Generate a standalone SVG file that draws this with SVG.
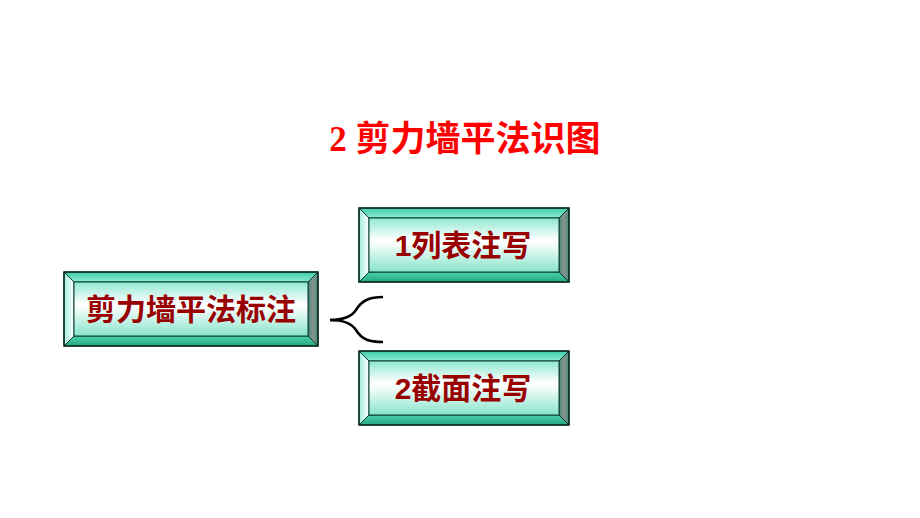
<svg xmlns="http://www.w3.org/2000/svg" width="920" height="518" viewBox="0 0 920 518">
<defs>
<linearGradient id="face" x1="0" y1="0" x2="0" y2="1">
<stop offset="0" stop-color="#8ee8d0"/>
<stop offset="0.4" stop-color="#ffffff"/>
<stop offset="0.5" stop-color="#f4fdfa"/>
<stop offset="1" stop-color="#86e4ca"/>
</linearGradient>
<linearGradient id="topb" x1="0" y1="0" x2="0" y2="1">
<stop offset="0" stop-color="#3ccca8"/>
<stop offset="1" stop-color="#8eead4"/>
</linearGradient>
<linearGradient id="leftb" x1="0" y1="0" x2="1" y2="0">
<stop offset="0" stop-color="#9eeedc"/>
<stop offset="1" stop-color="#ffffff"/>
</linearGradient>
<linearGradient id="botb" x1="0" y1="0" x2="0" y2="1">
<stop offset="0" stop-color="#4cd0ac"/>
<stop offset="1" stop-color="#24a884"/>
</linearGradient>
<linearGradient id="rightb" x1="0" y1="0" x2="1" y2="0">
<stop offset="0" stop-color="#3f8a78"/>
<stop offset="0.5" stop-color="#8a9490"/>
<stop offset="1" stop-color="#4a8a78"/>
</linearGradient>
</defs>
<style>
.bev{stroke:#0a3a2e;stroke-width:1}
.edge{fill:none;stroke:#0a2a22;stroke-width:1.5}
.lbl{font-family:"Liberation Sans","Noto Sans CJK SC",sans-serif;font-weight:bold;font-size:30px;fill:#990000;text-anchor:middle}
.title{font-family:"Liberation Serif","Noto Sans CJK SC",serif;font-weight:bold;font-size:35px;fill:#ff0000;text-anchor:middle}
.brace{fill:none;stroke:#000;stroke-width:2.5;stroke-linecap:butt}
</style>
<text class="title" x="465" y="151">2 剪力墙平法识图</text>
<g id="node-main">
<polygon class="bev" fill="url(#topb)" points="64,272 318,272 308,282 74,282"/>
<polygon class="bev" fill="url(#leftb)" points="64,272 74,282 74,336 64,346"/>
<polygon class="bev" fill="url(#botb)" points="64,346 74,336 308,336 318,346"/>
<polygon class="bev" fill="url(#rightb)" points="318,272 318,346 308,336 308,282"/>
<rect x="74" y="282" width="234" height="54" fill="url(#face)" stroke="#0a3a2e" stroke-width="1"/>
<rect class="edge" x="64" y="272" width="254" height="74"/>
<text class="lbl" x="191" y="320">剪力墙平法标注</text>
</g>
<g id="node-1">
<polygon class="bev" fill="url(#topb)" points="359,208 569,208 559,218 369,218"/>
<polygon class="bev" fill="url(#leftb)" points="359,208 369,218 369,272 359,282"/>
<polygon class="bev" fill="url(#botb)" points="359,282 369,272 559,272 569,282"/>
<polygon class="bev" fill="url(#rightb)" points="569,208 569,282 559,272 559,218"/>
<rect x="369" y="218" width="190" height="54" fill="url(#face)" stroke="#0a3a2e" stroke-width="1"/>
<rect class="edge" x="359" y="208" width="210" height="74"/>
<text class="lbl" x="463" y="256">1列表注写</text>
</g>
<g id="node-2">
<polygon class="bev" fill="url(#topb)" points="359,351 569,351 559,361 369,361"/>
<polygon class="bev" fill="url(#leftb)" points="359,351 369,361 369,415 359,425"/>
<polygon class="bev" fill="url(#botb)" points="359,425 369,415 559,415 569,425"/>
<polygon class="bev" fill="url(#rightb)" points="569,351 569,425 559,415 559,361"/>
<rect x="369" y="361" width="190" height="54" fill="url(#face)" stroke="#0a3a2e" stroke-width="1"/>
<rect class="edge" x="359" y="351" width="210" height="74"/>
<text class="lbl" x="463" y="399">2截面注写</text>
</g>
<g id="connectors">
<path class="brace" d="M330,320 C345,320 352,316 356,310 C362,300 370,297 383,297"/>
<path class="brace" d="M330,320 C345,320 352,324 356,330 C362,340 370,342 383,342"/>
</g>
</svg>
